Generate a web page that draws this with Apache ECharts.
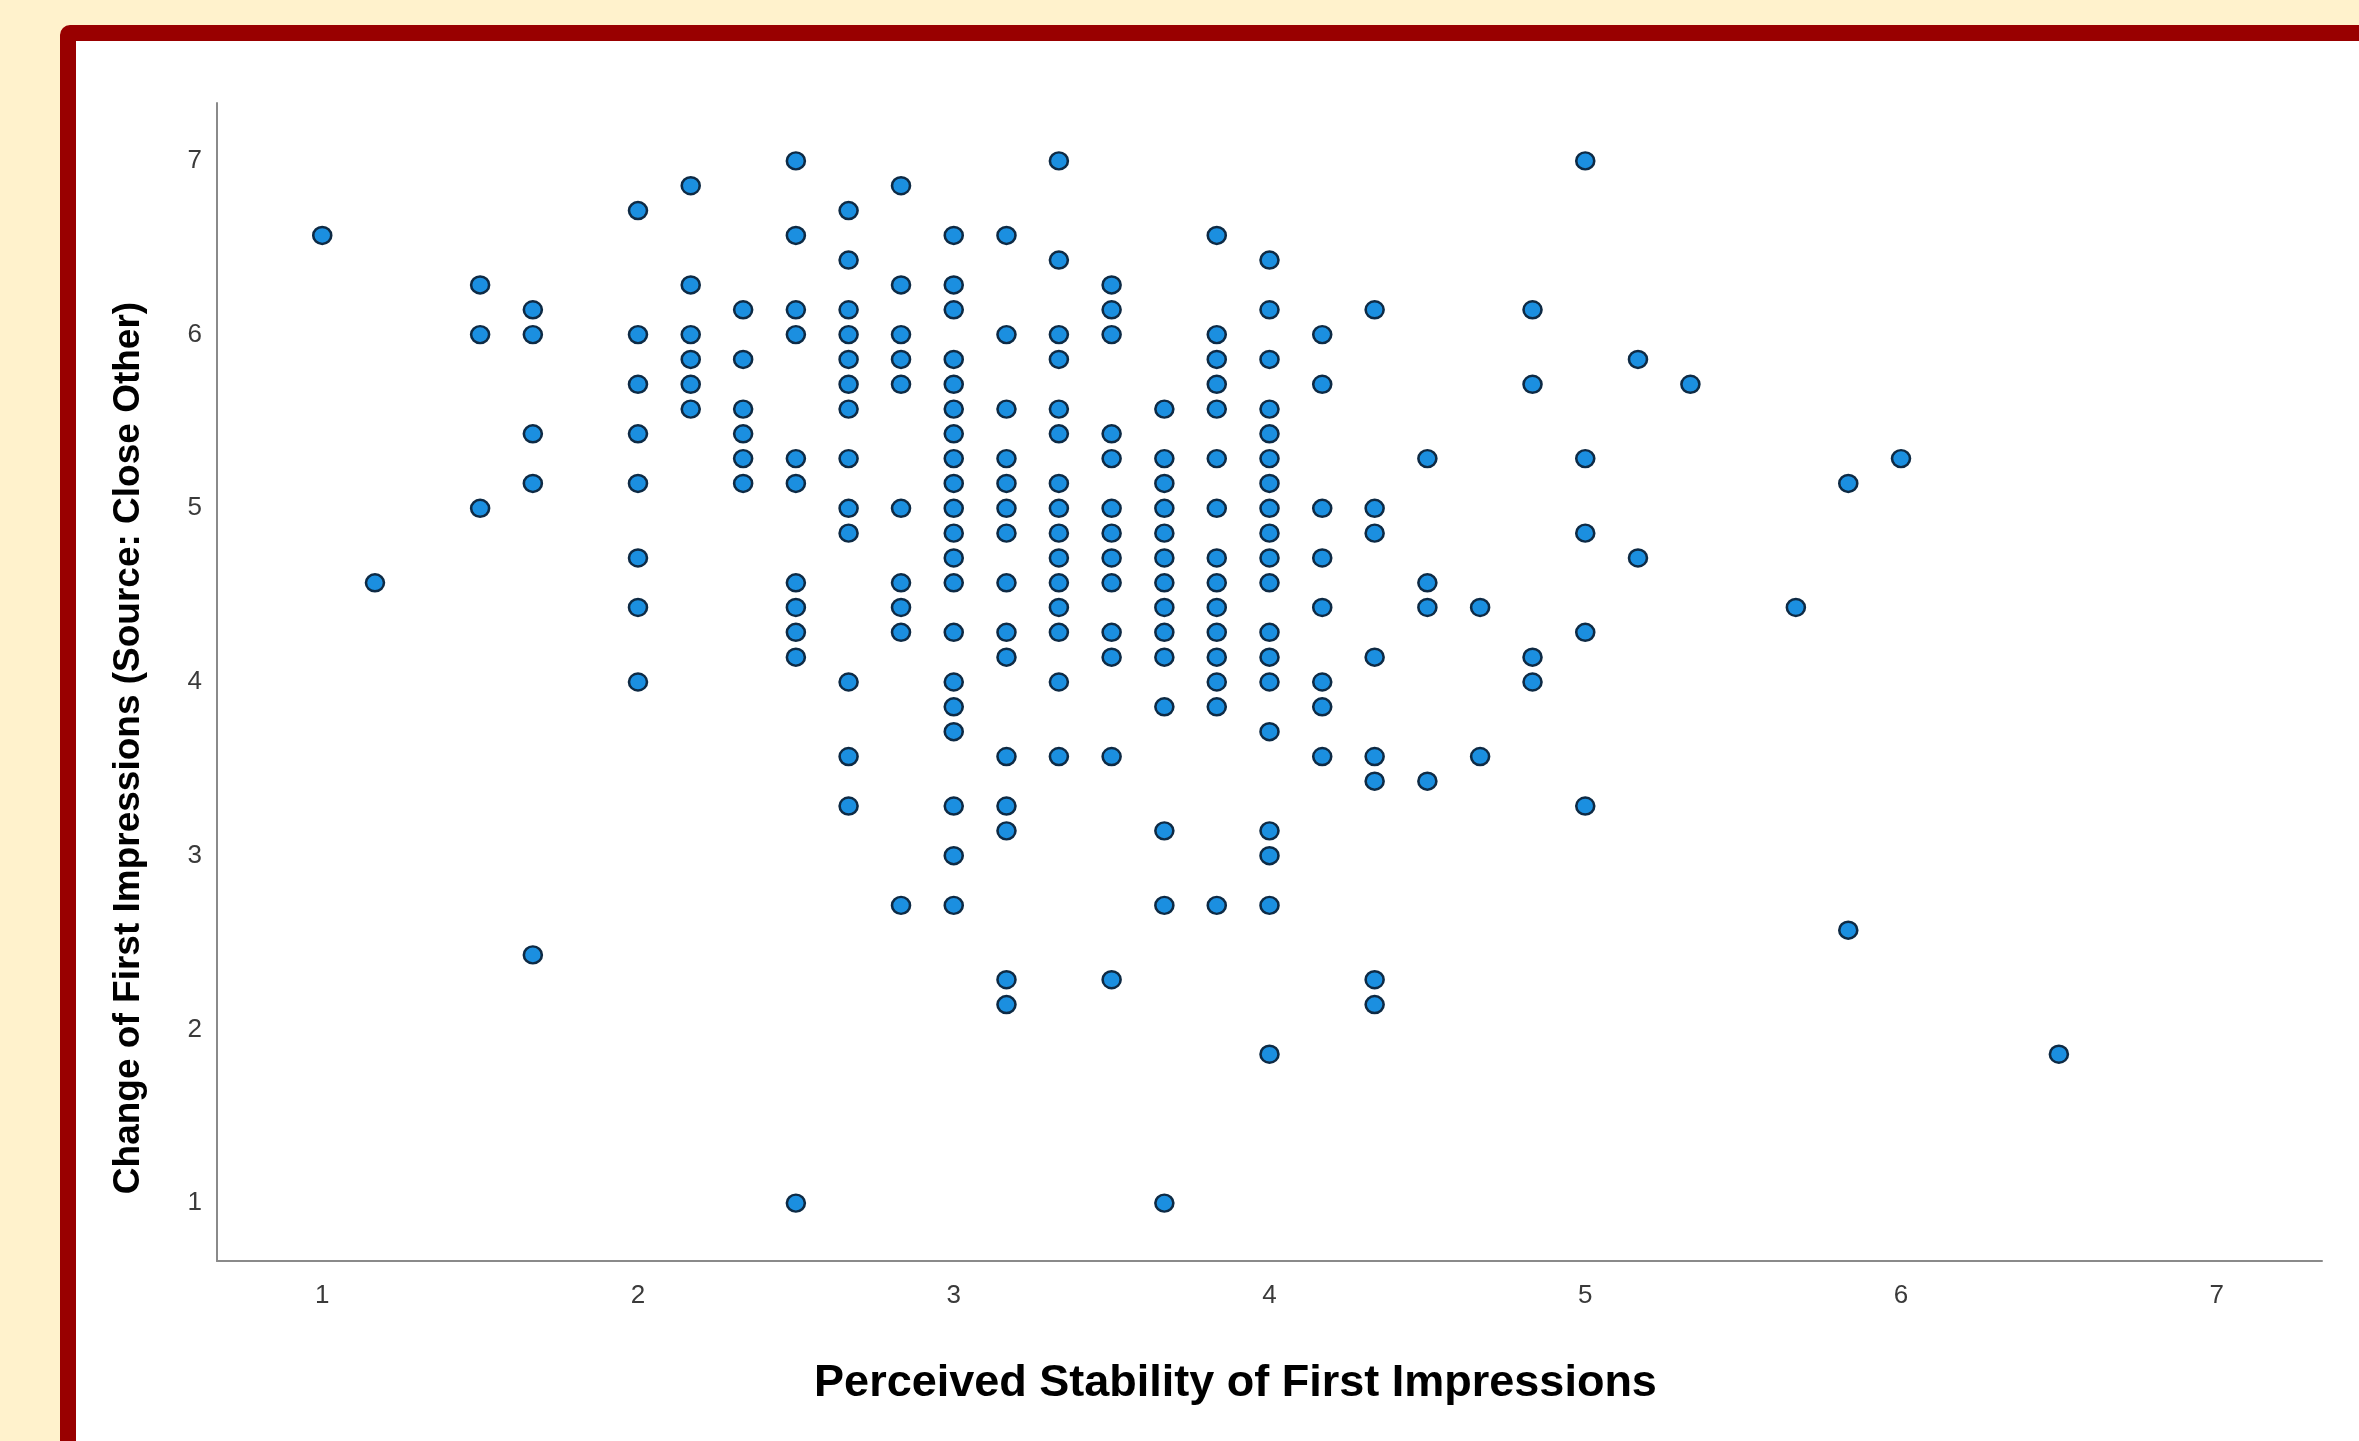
<!DOCTYPE html>
<html>
<head>
<meta charset="utf-8">
<title>Perceived Stability vs Change of First Impressions</title>
<script src="https://cdn.jsdelivr.net/npm/echarts@6/dist/echarts.min.js"></script>
<style>
    html, body { margin: 0; padding: 0; width: 2359px; height: 1441px; overflow: hidden; background: #fff2cc; }
    .frame { position: absolute; left: 60px; top: 25px; width: 2400px; height: 1500px;
             border: 16px solid #990000; border-radius: 10px; background: #fff; }
    #scatterChart { position: absolute; left: 0; top: 0; width: 2359px; height: 1441px; }
</style>
</head>
<body>
<div class="frame"></div>
<div id="scatterChart"></div>
<script>
// x: Perceived Stability of First Impressions (one entry per column of points)
var stabilityLevels = [1, 1.167, 1.5, 1.667, 2, 2.167, 2.333, 2.5, 2.667, 2.833, 3, 3.167, 3.333, 3.5,
    3.667, 3.833, 4, 4.167, 4.333, 4.5, 4.667, 4.833, 5, 5.167, 5.333, 5.667, 5.833, 6, 6.5];

// y: Change of First Impressions (Source: Close Other), listed per column above
var changeScores = [
    [6.571],
    [4.571],
    [6.286, 6, 5],
    [6.143, 6, 5.429, 5.143, 2.429],
    [6.714, 6, 5.714, 5.429, 5.143, 4.714, 4.429, 4],
    [6.857, 6.286, 6, 5.857, 5.714, 5.571],
    [6.143, 5.857, 5.571, 5.429, 5.286, 5.143],
    [7, 6.571, 6.143, 6, 5.286, 5.143, 4.571, 4.429, 4.286, 4.143, 1],
    [6.714, 6.429, 6.143, 6, 5.857, 5.714, 5.571, 5.286, 5, 4.857, 4, 3.571, 3.286],
    [6.857, 6.286, 6, 5.857, 5.714, 5, 4.571, 4.429, 4.286, 2.714],
    [6.571, 6.286, 6.143, 5.857, 5.714, 5.571, 5.429, 5.286, 5.143, 5, 4.857, 4.714, 4.571, 4.286, 4, 3.857, 3.714, 3.286, 3, 2.714],
    [6.571, 6, 5.571, 5.286, 5.143, 5, 4.857, 4.571, 4.286, 4.143, 3.571, 3.286, 3.143, 2.286, 2.143],
    [7, 6.429, 6, 5.857, 5.571, 5.429, 5.143, 5, 4.857, 4.714, 4.571, 4.429, 4.286, 4, 3.571],
    [6.286, 6.143, 6, 5.429, 5.286, 5, 4.857, 4.714, 4.571, 4.286, 4.143, 3.571, 2.286],
    [5.571, 5.286, 5.143, 5, 4.857, 4.714, 4.571, 4.429, 4.286, 4.143, 3.857, 3.143, 2.714, 1],
    [6.571, 6, 5.857, 5.714, 5.571, 5.286, 5, 4.714, 4.571, 4.429, 4.286, 4.143, 4, 3.857, 2.714],
    [6.429, 6.143, 5.857, 5.571, 5.429, 5.286, 5.143, 5, 4.857, 4.714, 4.571, 4.286, 4.143, 4, 3.714, 3.143, 3, 2.714, 1.857],
    [6, 5.714, 5, 4.714, 4.429, 4, 3.857, 3.571],
    [6.143, 5, 4.857, 4.143, 3.571, 3.429, 2.286, 2.143],
    [5.286, 4.571, 4.429, 3.429],
    [4.429, 3.571],
    [6.143, 5.714, 4.143, 4],
    [7, 5.286, 4.857, 4.286, 3.286],
    [5.857, 4.714],
    [5.714],
    [4.429],
    [5.143, 2.571],
    [5.286],
    [1.857]
];

var axisTicks = [1, 2, 3, 4, 5, 6, 7];

var points = [];
for (var i = 0; i < stabilityLevels.length; i++) {
    for (var k = 0; k < changeScores[i].length; k++) {
        points.push([stabilityLevels[i], changeScores[i][k]]);
    }
}

var scatterChart = echarts.init(document.getElementById('scatterChart'));

var labelStyle = {
    color: '#3a3a3a',
    fontFamily: 'Liberation Sans, Arial, sans-serif',
    fontSize: 26
};

var option = {
    backgroundColor: 'transparent',
    animation: false,
    grid: {
        left: 217,
        top: 103,
        right: 37,
        bottom: 180
    },
    xAxis: {
        type: 'value',
        min: 0.6667,
        max: 7.3333,
        name: 'Perceived Stability of First Impressions',
        nameLocation: 'middle',
        nameGap: 100,
        nameTextStyle: {
            color: '#000',
            fontWeight: 'bold',
            fontSize: 45,
            fontFamily: 'Liberation Sans, Arial, sans-serif',
            padding: [0, 68, 0, 0]
        },
        axisLine: { show: true, onZero: false, lineStyle: { color: '#8a8a8a', width: 2 } },
        axisTick: { show: false },
        splitLine: { show: false },
        axisLabel: Object.assign({ customValues: axisTicks, margin: 22 }, labelStyle)
    },
    yAxis: {
        type: 'value',
        min: 0.6667,
        max: 7.3333,
        name: 'Change of First Impressions (Source: Close Other)',
        nameLocation: 'middle',
        nameGap: 70,
        nameRotate: 90,
        nameTextStyle: {
            color: '#000',
            fontWeight: 'bold',
            fontSize: 37,
            fontFamily: 'Liberation Sans, Arial, sans-serif',
            padding: [0, 132, 0, 0]
        },
        axisLine: { show: true, onZero: false, lineStyle: { color: '#8a8a8a', width: 2 } },
        axisTick: { show: false },
        splitLine: { show: false },
        axisLabel: Object.assign({ customValues: axisTicks, margin: 15, padding: [8, 0, 0, 0] }, labelStyle)
    },
    series: [
        {
            type: 'scatter',
            data: points,
            symbol: 'circle',
            symbolSize: [18, 17],
            itemStyle: {
                color: '#1b8fe0',
                borderColor: '#0e2a44',
                borderWidth: 2.5,
                opacity: 1
            },
            emphasis: { disabled: true }
        }
    ]
};
scatterChart.setOption(option);
</script>
</body>
</html>
